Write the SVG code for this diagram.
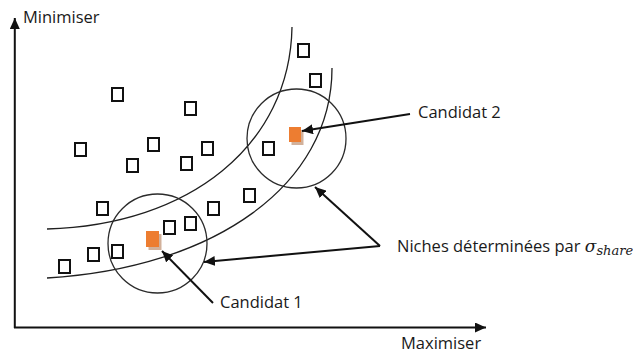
<svg xmlns="http://www.w3.org/2000/svg" width="633" height="353" viewBox="0 0 633 353">
  <style>
    .lbl { font-family: "Open Sans", "Liberation Sans", sans-serif; font-size: 16.5px; fill: #1a1a1a; }
    .math { font-family: "DejaVu Serif", "Liberation Serif", serif; font-style: italic; fill: #1a1a1a; }
    .pt { fill: #ffffff; stroke: #111111; stroke-width: 2; }
    .cand { fill: #ed7d31; }
    .shadow { fill: #c79d82; opacity: 0.8; }
    .niche { fill: none; stroke: #2b2b2b; stroke-width: 1.3; }
    .front { fill: none; stroke: #1f1f1f; stroke-width: 1.3; }
    .axis { fill: none; stroke: #111111; stroke-width: 2; }
    .ptr { fill: none; stroke: #111111; stroke-width: 2; }
  </style>
  <defs>
    <marker id="head" markerUnits="userSpaceOnUse" markerWidth="11" markerHeight="10" refX="11" refY="5" orient="auto">
      <path d="M0,0 L11,5 L0,10 z" fill="#111111"/>
    </marker>
  </defs>

  <rect width="633" height="353" fill="#ffffff"/>

  <!-- axes -->
  <g id="axes">
    <path class="axis" d="M14.8,328 L14.8,18" marker-end="url(#head)"/>
    <path class="axis" d="M14,327.5 L486,327.5" marker-end="url(#head)"/>
    <text class="lbl" x="23" y="23">Minimiser</text>
    <text class="lbl" x="401" y="349">Maximiser</text>
  </g>

  <!-- front bands -->
  <g id="fronts">
    <path class="front" d="M47,229 C190,225 290,145 292,27"/>
    <path class="front" d="M47,278 C215,268 332,185 332,68"/>
  </g>

  <!-- niches -->
  <g id="niche-1"><circle class="niche" cx="157.5" cy="243.5" r="49.5"/></g>
  <g id="niche-2"><circle class="niche" cx="296.5" cy="138.5" r="49.5"/></g>

  <!-- population -->
  <g id="population">
    <rect class="pt" x="112" y="88" width="11" height="13"/>
    <rect class="pt" x="185" y="102" width="11" height="13"/>
    <rect class="pt" x="75" y="143" width="11" height="13"/>
    <rect class="pt" x="148" y="138" width="11" height="13"/>
    <rect class="pt" x="127" y="159" width="11" height="13"/>
    <rect class="pt" x="181" y="157" width="11" height="13"/>
    <rect class="pt" x="202" y="142" width="11" height="13"/>
    <rect class="pt" x="298" y="44" width="11" height="13"/>
    <rect class="pt" x="310" y="74" width="11" height="13"/>
    <rect class="pt" x="263" y="142" width="11" height="13"/>
    <rect class="pt" x="97" y="202" width="11" height="13"/>
    <rect class="pt" x="59" y="260" width="11" height="13"/>
    <rect class="pt" x="88" y="248" width="11" height="13"/>
    <rect class="pt" x="112" y="245" width="11" height="13"/>
    <rect class="pt" x="164" y="221" width="11" height="13"/>
    <rect class="pt" x="185" y="217" width="11" height="13"/>
    <rect class="pt" x="208" y="202" width="11" height="13"/>
    <rect class="pt" x="244" y="189" width="11" height="13"/>
  </g>

  <!-- candidates -->
  <g id="candidat-1">
    <rect class="shadow" x="148.5" y="234" width="13" height="16"/>
    <rect class="cand" x="146" y="231" width="13" height="16"/>
    <text class="lbl" x="220" y="308">Candidat 1</text>
  </g>
  <g id="candidat-2">
    <rect class="shadow" x="291.5" y="130" width="12" height="15"/>
    <rect class="cand" x="289" y="127" width="12" height="15"/>
    <text class="lbl" x="418" y="118">Candidat 2</text>
  </g>

  <g id="niche-label">
    <text class="lbl" x="397" y="252">Niches déterminées par <tspan class="math" font-size="17">σ</tspan><tspan class="math" font-size="13" dy="3">share</tspan></text>
  </g>

  <!-- pointers -->
  <g id="connectors">
    <path class="ptr" d="M410,114 L302,131" marker-end="url(#head)"/>
    <path class="ptr" d="M213,303 L162,251" marker-end="url(#head)"/>
    <path class="ptr" d="M380,246 L315,187" marker-end="url(#head)"/>
    <path class="ptr" d="M380,246 L204,262" marker-end="url(#head)"/>
  </g>
</svg>
